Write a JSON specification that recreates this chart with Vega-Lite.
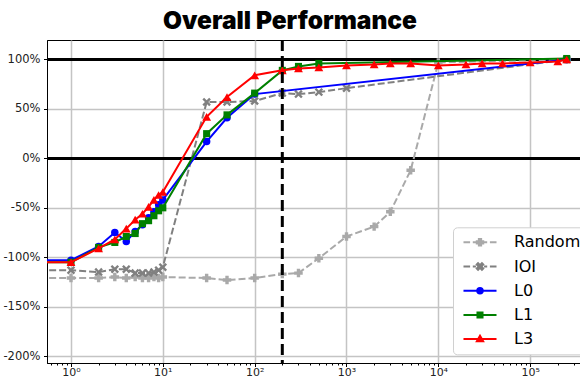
{
  "$schema": "https://vega.github.io/schema/vega-lite/v6.json",
  "width": 575,
  "height": 323,
  "autosize": {"type": "none"},
  "padding": {"left": 47, "top": 40, "right": 0, "bottom": 15},
  "background": "white",
  "title": {"text": "Overall Performance", "font": "Inter", "fontSize": 24.5, "fontWeight": 900, "anchor": "start", "frame": "group", "dx": 116, "dy": 25, "offset": 10, "baseline": "alphabetic", "color": "black"},
  "config": {
    "view": {"stroke": "black", "strokeWidth": 1},
    "axis": {"domainColor": "black", "domainWidth": 1, "tickColor": "black", "tickWidth": 1, "labelColor": "#222", "labelFont": "DejaVu Sans", "labelFontSize": 11.5, "labelPadding": 3.5, "tickSize": 3.5, "gridColor": "#c4c4c4", "gridWidth": 1.5}
  },
  "datasets": {
    "perf": [
      {"s": "Random", "x": 0.1, "y": -121}, {"s": "Random", "x": 1, "y": -121}, {"s": "Random", "x": 2, "y": -121}, {"s": "Random", "x": 3, "y": -120}, {"s": "Random", "x": 4, "y": -121}, {"s": "Random", "x": 5, "y": -120}, {"s": "Random", "x": 6, "y": -121}, {"s": "Random", "x": 7, "y": -121}, {"s": "Random", "x": 8, "y": -120}, {"s": "Random", "x": 9, "y": -121}, {"s": "Random", "x": 10, "y": -120}, {"s": "Random", "x": 30, "y": -121}, {"s": "Random", "x": 50, "y": -123}, {"s": "Random", "x": 100, "y": -121}, {"s": "Random", "x": 200, "y": -117}, {"s": "Random", "x": 300, "y": -116}, {"s": "Random", "x": 500, "y": -101}, {"s": "Random", "x": 1000, "y": -79}, {"s": "Random", "x": 2000, "y": -69}, {"s": "Random", "x": 3000, "y": -54}, {"s": "Random", "x": 5000, "y": -12}, {"s": "Random", "x": 10000, "y": 97}, {"s": "Random", "x": 250000, "y": 100},
      {"s": "IOI", "x": 0.1, "y": -113}, {"s": "IOI", "x": 1, "y": -113}, {"s": "IOI", "x": 2, "y": -115}, {"s": "IOI", "x": 3, "y": -112}, {"s": "IOI", "x": 4, "y": -112}, {"s": "IOI", "x": 5, "y": -116}, {"s": "IOI", "x": 6, "y": -116}, {"s": "IOI", "x": 7, "y": -116}, {"s": "IOI", "x": 8, "y": -115}, {"s": "IOI", "x": 9, "y": -113}, {"s": "IOI", "x": 10, "y": -110}, {"s": "IOI", "x": 30, "y": 57}, {"s": "IOI", "x": 50, "y": 57}, {"s": "IOI", "x": 100, "y": 58}, {"s": "IOI", "x": 200, "y": 66}, {"s": "IOI", "x": 300, "y": 65}, {"s": "IOI", "x": 500, "y": 67}, {"s": "IOI", "x": 1000, "y": 71}, {"s": "IOI", "x": 250000, "y": 100},
      {"s": "L0", "x": 0.1, "y": -103}, {"s": "L0", "x": 1, "y": -103}, {"s": "L0", "x": 2, "y": -89}, {"s": "L0", "x": 3, "y": -75}, {"s": "L0", "x": 4, "y": -84}, {"s": "L0", "x": 5, "y": -74}, {"s": "L0", "x": 6, "y": -67}, {"s": "L0", "x": 7, "y": -60}, {"s": "L0", "x": 8, "y": -54}, {"s": "L0", "x": 9, "y": -47}, {"s": "L0", "x": 10, "y": -42}, {"s": "L0", "x": 30, "y": 17}, {"s": "L0", "x": 50, "y": 41}, {"s": "L0", "x": 100, "y": 65}, {"s": "L0", "x": 250000, "y": 100},
      {"s": "L1", "x": 0.1, "y": -105}, {"s": "L1", "x": 1, "y": -105}, {"s": "L1", "x": 2, "y": -90}, {"s": "L1", "x": 3, "y": -85}, {"s": "L1", "x": 4, "y": -79}, {"s": "L1", "x": 5, "y": -76}, {"s": "L1", "x": 6, "y": -66}, {"s": "L1", "x": 7, "y": -63}, {"s": "L1", "x": 8, "y": -58}, {"s": "L1", "x": 9, "y": -53}, {"s": "L1", "x": 10, "y": -50}, {"s": "L1", "x": 30, "y": 25}, {"s": "L1", "x": 50, "y": 44}, {"s": "L1", "x": 100, "y": 66}, {"s": "L1", "x": 200, "y": 89}, {"s": "L1", "x": 300, "y": 93}, {"s": "L1", "x": 500, "y": 96}, {"s": "L1", "x": 250000, "y": 101},
      {"s": "L3", "x": 0.1, "y": -105}, {"s": "L3", "x": 1, "y": -105}, {"s": "L3", "x": 2, "y": -91}, {"s": "L3", "x": 3, "y": -82}, {"s": "L3", "x": 4, "y": -71}, {"s": "L3", "x": 5, "y": -62}, {"s": "L3", "x": 6, "y": -56}, {"s": "L3", "x": 7, "y": -49}, {"s": "L3", "x": 8, "y": -42}, {"s": "L3", "x": 9, "y": -37}, {"s": "L3", "x": 10, "y": -34}, {"s": "L3", "x": 30, "y": 42}, {"s": "L3", "x": 50, "y": 62}, {"s": "L3", "x": 100, "y": 84}, {"s": "L3", "x": 200, "y": 89}, {"s": "L3", "x": 300, "y": 91}, {"s": "L3", "x": 500, "y": 92}, {"s": "L3", "x": 1000, "y": 94}, {"s": "L3", "x": 2000, "y": 95}, {"s": "L3", "x": 3000, "y": 96}, {"s": "L3", "x": 5000, "y": 96}, {"s": "L3", "x": 10000, "y": 94}, {"s": "L3", "x": 20000, "y": 95}, {"s": "L3", "x": 30000, "y": 96}, {"s": "L3", "x": 50000, "y": 96}, {"s": "L3", "x": 100000, "y": 97}, {"s": "L3", "x": 200000, "y": 98}, {"s": "L3", "x": 250000, "y": 100}
    ]
  },
  "layer": [
    {
      "data": {"values": [{"v": 0}, {"v": 100}]},
      "mark": {"type": "rule", "color": "black", "strokeWidth": 3},
      "encoding": {
        "y": {"field": "v", "type": "quantitative", "title": null,
              "scale": {"domain": [-206.9, 119.7], "nice": false, "zero": false},
              "axis": {"values": [-200, -150, -100, -50, 0, 50, 100], "labelExpr": "datum.value + '%'", "grid": true, "title": null}}
      }
    },
    {
      "data": {"name": "perf"},
      "transform": [{"filter": "datum.s == 'Random'"}],
      "layer": [
        {"mark": {"type": "line", "color": "#a9a9a9", "strokeWidth": 2, "strokeDash": [7, 3], "clip": true},
         "encoding": {
           "x": {"field": "x", "type": "quantitative", "title": null,
                 "scale": {"type": "log", "domain": [0.548, 1000000], "nice": false},
                 "axis": {"title": null, "grid": true, "labelOverlap": false, "labelFlush": false, "labelPadding": 0, "labelFontSize": 11,
                          "values": [0.6,0.7,0.8,0.9,1,2,3,4,5,6,7,8,9,10,20,30,40,50,60,70,80,90,100,200,300,400,500,600,700,800,900,1000,2000,3000,4000,5000,6000,7000,8000,9000,10000,20000,30000,40000,50000,60000,70000,80000,90000,100000,200000,300000,400000,500000,600000,700000,800000,900000],
                          "labelExpr": "abs(log(datum.value)/LN10 - round(log(datum.value)/LN10)) < 0.000001 ? '10' + ['⁰','¹','²','³','⁴','⁵','⁶'][round(log(datum.value)/LN10)] : ''",
                          "tickSize": {"condition": {"test": "abs(log(datum.value)/LN10 - round(log(datum.value)/LN10)) < 0.000001", "value": 3.5}, "value": 2},
                          "gridOpacity": {"condition": {"test": "abs(log(datum.value)/LN10 - round(log(datum.value)/LN10)) < 0.000001", "value": 1}, "value": 0}}},
           "y": {"field": "y", "type": "quantitative", "title": null}
         }},
        {"mark": {"type": "point", "shape": "cross", "filled": true, "color": "#a9a9a9", "size": 72, "opacity": 1, "clip": true},
         "encoding": {"x": {"field": "x", "type": "quantitative", "title": null}, "y": {"field": "y", "type": "quantitative", "title": null}}}
      ]
    },
    {
      "data": {"name": "perf"},
      "transform": [{"filter": "datum.s == 'IOI'"}],
      "layer": [
        {"mark": {"type": "line", "color": "#808080", "strokeWidth": 2, "strokeDash": [7, 3], "clip": true},
         "encoding": {"x": {"field": "x", "type": "quantitative", "title": null}, "y": {"field": "y", "type": "quantitative", "title": null}}},
        {"mark": {"type": "point", "shape": "M-1,-0.6L-0.6,-1L0,-0.4L0.6,-1L1,-0.6L0.4,0L1,0.6L0.6,1L0,0.4L-0.6,1L-1,0.6L-0.4,0Z", "filled": true, "color": "#808080", "size": 72, "opacity": 1, "clip": true},
         "encoding": {"x": {"field": "x", "type": "quantitative", "title": null}, "y": {"field": "y", "type": "quantitative", "title": null}}}
      ]
    },
    {
      "data": {"name": "perf"},
      "transform": [{"filter": "datum.s == 'L0'"}],
      "layer": [
        {"mark": {"type": "line", "color": "#0000ff", "strokeWidth": 2, "clip": true},
         "encoding": {"x": {"field": "x", "type": "quantitative", "title": null}, "y": {"field": "y", "type": "quantitative", "title": null}}},
        {"mark": {"type": "point", "shape": "circle", "filled": true, "color": "#0000ff", "size": 56, "opacity": 1, "clip": true},
         "encoding": {"x": {"field": "x", "type": "quantitative", "title": null}, "y": {"field": "y", "type": "quantitative", "title": null}}}
      ]
    },
    {
      "data": {"name": "perf"},
      "transform": [{"filter": "datum.s == 'L1'"}],
      "layer": [
        {"mark": {"type": "line", "color": "#008000", "strokeWidth": 2, "clip": true},
         "encoding": {"x": {"field": "x", "type": "quantitative", "title": null}, "y": {"field": "y", "type": "quantitative", "title": null}}},
        {"mark": {"type": "point", "shape": "square", "filled": true, "color": "#008000", "size": 50, "opacity": 1, "clip": true},
         "encoding": {"x": {"field": "x", "type": "quantitative", "title": null}, "y": {"field": "y", "type": "quantitative", "title": null}}}
      ]
    },
    {
      "data": {"name": "perf"},
      "transform": [{"filter": "datum.s == 'L3'"}],
      "layer": [
        {"mark": {"type": "line", "color": "#ff0000", "strokeWidth": 2, "clip": true},
         "encoding": {"x": {"field": "x", "type": "quantitative", "title": null}, "y": {"field": "y", "type": "quantitative", "title": null}}},
        {"mark": {"type": "point", "shape": "triangle-up", "filled": true, "color": "#ff0000", "size": 78, "opacity": 1, "clip": true},
         "encoding": {"x": {"field": "x", "type": "quantitative", "title": null}, "y": {"field": "y", "type": "quantitative", "title": null}}}
      ]
    },
    {
      "data": {"values": [{"v": 200}]},
      "mark": {"type": "rule", "color": "black", "strokeWidth": 3, "strokeDash": [11, 5]},
      "encoding": {"x": {"field": "v", "type": "quantitative", "title": null}}
    },
    {
      "data": {"name": "perf"},
      "transform": [{"filter": "datum.y > 1000"}],
      "mark": {"type": "point", "filled": true, "opacity": 1},
      "encoding": {
        "x": {"field": "x", "type": "quantitative", "title": null},
        "y": {"field": "y", "type": "quantitative", "title": null},
        "color": {"field": "s", "type": "nominal",
                  "scale": {"domain": ["Random", "IOI", "L0", "L1", "L3"], "range": ["#a9a9a9", "#808080", "#0000ff", "#008000", "#ff0000"]},
                  "legend": {"orient": "none", "legendX": 406, "legendY": 187.3, "title": null, "labelFont": "DejaVu Sans", "labelFontSize": 16, "labelColor": "black", "symbolSize": 81, "symbolOffset": 12, "labelOffset": 26, "padding": 7, "rowPadding": 8.2, "fillColor": "white", "strokeColor": "#d0d0d0", "cornerRadius": 4, "symbolStrokeWidth": 2, "symbolOpacity": 1,
                             "encode": {"symbols": {"update": {"fill": {"scale": "color", "field": "value"}, "stroke": {"scale": "color", "field": "value"}, "strokeWidth": {"value": 2}, "opacity": {"value": 1}}}}}},
        "shape": {"field": "s", "type": "nominal",
                  "scale": {"domain": ["Random", "IOI", "L0", "L1", "L3"],
                            "range": [
                              "M-3.67,0H-2.2M-1.6,0H-0.9M0.9,0H1.6M2.2,0H3.67M-0.25,-0.72H0.25V-0.25H0.72V0.25H0.25V0.72H-0.25V0.25H-0.72V-0.25H-0.25Z",
                              "M-3.67,0H-2.2M-1.6,0H-0.9M0.9,0H1.6M2.2,0H3.67M-0.72,-0.43L-0.43,-0.72L0,-0.29L0.43,-0.72L0.72,-0.43L0.29,0L0.72,0.43L0.43,0.72L0,0.29L-0.43,0.72L-0.72,0.43L-0.29,0Z",
                              "M-3.67,0H3.67M-0.61,0A0.61,0.61 0 1,0 0.61,0A0.61,0.61 0 1,0 -0.61,0Z",
                              "M-3.67,0H3.67M-0.56,-0.56H0.56V0.56H-0.56Z",
                              "M-3.67,0H3.67M0,-0.75L0.7,0.5H-0.7Z"
                            ]},
                  "legend": {"orient": "none", "legendX": 406, "legendY": 187.3, "title": null, "labelFont": "DejaVu Sans", "labelFontSize": 16, "labelColor": "black", "symbolSize": 81, "symbolOffset": 12, "labelOffset": 26, "padding": 7, "rowPadding": 8.2, "fillColor": "white", "strokeColor": "#d0d0d0", "cornerRadius": 4, "symbolStrokeWidth": 2, "symbolOpacity": 1}}
      }
    }
  ]
}
